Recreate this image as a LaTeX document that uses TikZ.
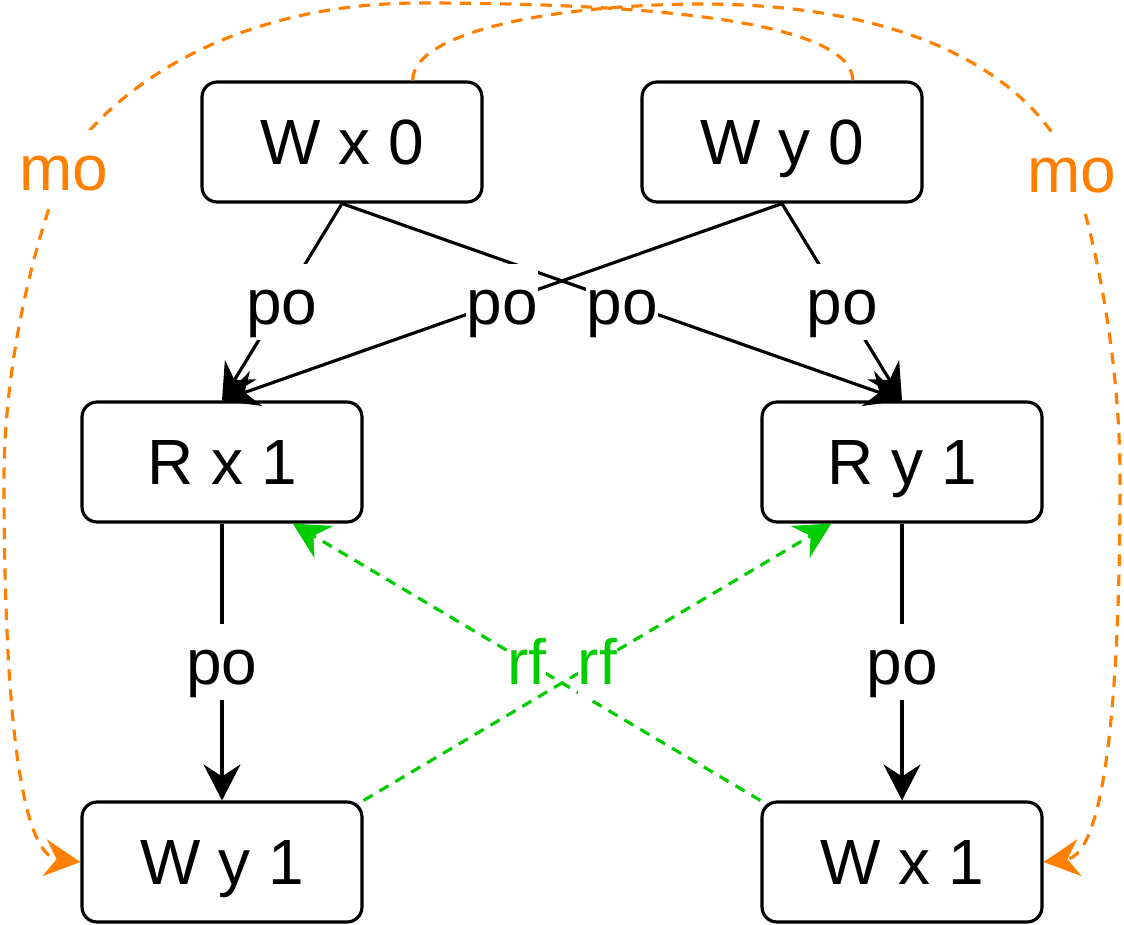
\documentclass[tikz,border=0pt]{standalone}
\usepackage{fontspec}
\setmainfont{Liberation Sans}
\usetikzlibrary{arrows.meta, calc, positioning}

\definecolor{moorange}{HTML}{FF8000}
\definecolor{rfgreen}{HTML}{00CC00}

\begin{document}
\begin{tikzpicture}[
    x=0.02cm, y=-0.02cm, line width=1.8pt,
    font=\fontsize{36.4}{43.7}\selectfont,
    event/.style={rectangle, draw, rounded corners=0.3cm, minimum width=5.6cm,
        minimum height=2.4cm, inner sep=0pt, text height=34.4pt, text depth=9.3pt},
    arrowstyle/.style={draw, -{Stealth[length=0.72cm, width=0.74cm, inset=0.24cm]}},
    edgelabel/.style={fill=white, inner sep=0pt, text height=34.4pt, text depth=9.3pt},
    rfedge/.style={arrowstyle, draw=rfgreen, dash pattern=on 6pt off 4.5pt},
    moedge/.style={arrowstyle, draw=moorange, dash pattern=on 6.5pt off 5pt}
]
\useasboundingbox (0,0) rectangle (1124,924);

\node (Wx0) [event] at (342,142) {W x 0};
\node (Wy0) [event] at (782,142) {W y 0};
\node (Rx1) [event] at (222,462) {R x 1};
\node (Ry1) [event] at (902,462) {R y 1};
\node (Wy1) [event] at (222,862) {W y 1};
\node (Wx1) [event] at (902,862) {W x 1};

\draw[arrowstyle] (Wx0.south) -- node[edgelabel] {po} (Rx1.north);
\draw[arrowstyle] (Wy0.south) -- node[edgelabel] {po} (Ry1.north);
\draw[arrowstyle] (Wx0.south) -- node[edgelabel] {po} (Ry1.north);
\draw[arrowstyle] (Wy0.south) -- node[edgelabel] {po} (Rx1.north);
\draw[arrowstyle] (Rx1) -- node[edgelabel] {po} (Wy1);
\draw[arrowstyle] (Ry1) -- node[edgelabel] {po} (Wx1);

\draw[rfedge] (Wx1.north west) -- node[edgelabel, text=rfgreen] {rf}
    ($(Rx1.south west)!.75!(Rx1.south east)$);
\draw[rfedge] (Wy1.north east) -- node[edgelabel, text=rfgreen] {rf}
    ($(Ry1.south west)!.25!(Ry1.south east)$);

\draw[moedge] ($(Wx0.north)!.5!(Wx0.north east)$)
    .. controls (412,35) and (540,5) .. (700,4)
    .. controls (960,4) and (1050,110) .. (1072,170) node[edgelabel, text=moorange] {mo}
    .. controls (1088,214) and (1120,340) .. (1120,480)
    .. controls (1120,720) and (1102,855) .. (Wx1.east);
\draw[moedge] ($(Wy0.north)!.5!(Wy0.north east)$)
    .. controls (852,28) and (690,3) .. (420,3)
    .. controls (200,3) and (85,120) .. (64,168) node[edgelabel, text=moorange] {mo}
    .. controls (46,209) and (4,340) .. (4,480)
    .. controls (4,720) and (22,855) .. (Wy1.west);

\end{tikzpicture}
\end{document}
